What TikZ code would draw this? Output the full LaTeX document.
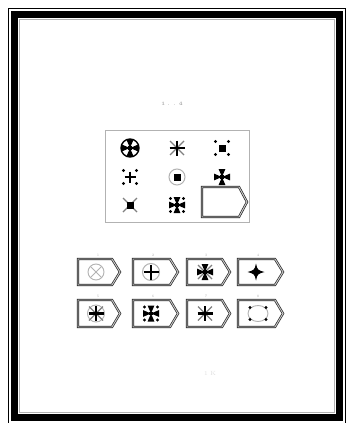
\documentclass[tikz,border=0pt]{standalone}
\usetikzlibrary{calc}
\tikzset{
  pattee/.pic={
    \foreach \r in {0,90,180,270}{
      \fill[rotate=\r] (0,0) -- (-3.4,-8) -- (3.4,-8) -- cycle;}
    \fill (-1.8,-1.8) rectangle (1.8,1.8);
  },
  dotsq/.pic={
    \foreach \dx/\dy in {-6.5/-6.5,6.5/-6.5,-6.5/6.5,6.5/6.5}{\fill (\dx,\dy) circle (1.7);}
  },
  xgray/.pic={
    \draw[black!50,line width=1.3] (-7,-7) -- (7,7) (-7,7) -- (7,-7);
  },
  plusblk/.pic={
    \draw[line width=2.5] (-7.5,0) -- (7.5,0) (0,-7.5) -- (0,7.5);
  },
  plussmall/.pic={
    \draw[line width=2.3] (-5.5,0) -- (5.5,0) (0,-5.5) -- (0,5.5);
  },
  sqblk/.pic={
    \fill (-3.5,-3.5) rectangle (3.5,3.5);
  },
  star4/.pic={
    \fill (0,-8.5) .. controls (1.5,-2) .. (8.5,0) .. controls (1.5,2) .. (0,8.5)
          .. controls (-1.5,2) .. (-8.5,0) .. controls (-1.5,-2) .. (0,-8.5) -- cycle;
  },
  tagline/.style={draw=black!85,line width=0.7pt,double=gray!40,double distance=0.9pt},
  lbl/.style={font=\fontsize{3.5}{3.5}\selectfont,text=gray!60,inner sep=0pt},
}
\newcommand{\tagat}[4]{%
  \draw[tagline] (#1,#2) -- ({#1+#3-8},#2) -- ({#1+#3},{#2+#4/2}) -- ({#1+#3-8},{#2+#4}) -- (#1,{#2+#4}) -- cycle;}
\begin{document}
\begin{tikzpicture}[x=1pt,y=-1pt]
\useasboundingbox (0,0) rectangle (352,423);
\fill[white] (0,0) rectangle (352,423);
% page border
\draw[line width=0.8pt] (8.5,8.5) rectangle (345.5,423);
\draw[line width=7pt] (14.5,14.5) rectangle (339,417.5);
\draw[gray!60,line width=0.6pt] (19.3,19.3) rectangle (334.2,412.7);
% heading
\node[font=\fontsize{5}{5}\selectfont\bfseries,text=gray!70] (hd) at (172,104) {1 . . 4};
% grid box
\draw[gray!60,line width=0.6pt] (105,130) rectangle (249,222);
% row 1
\draw[line width=1.4pt] (130,148) circle (9);
\pic at (130,148) {pattee};
\pic at (177,148) {xgray};
\pic at (177,148) {plusblk};
\pic at (222,148) {sqblk};
\pic at (222,148) {dotsq};
% row 2
\pic at (130,177) {plussmall};
\pic at (130,177) {dotsq};
\draw[gray!60,line width=1pt] (177,177) circle (8);
\pic at (177,177) {sqblk};
\pic at (222,177) {pattee};
% row 3
\pic at (130,205) {xgray};
\pic at (130,205) {sqblk};
\pic at (177,205) {pattee};
\pic at (177,205) {dotsq};
\tagat{202}{187}{45}{30}
% options
\tagat{78}{259}{42}{26}
\tagat{133}{259}{45}{26}
\tagat{187}{259}{43}{26}
\tagat{238}{259}{45}{26}
\tagat{78}{300}{42}{27}
\tagat{133}{300}{45}{27}
\tagat{187}{300}{43}{27}
\tagat{238}{300}{45}{27}
\node[lbl] (l1) at (98,255) {1};
\node[lbl] (l2) at (153,255) {2};
\node[lbl] (l3) at (206,255) {3};
\node[lbl] (l4) at (258,255) {4};
\node[lbl] (l5) at (98,296) {5};
\node[lbl] (l6) at (153,296) {6};
\node[lbl] (l7) at (206,296) {7};
\node[lbl] (l8) at (258,296) {8};
% option contents
\draw[gray!60,line width=0.9pt] (96,272) circle (8);
\draw[gray!60,line width=0.9pt] (90.5,266.5) -- (101.5,277.5) (90.5,277.5) -- (101.5,266.5);
\draw[gray!60,line width=1pt] (151,272) circle (8.5);
\pic at (151,272) {plusblk};
\pic at (205,272) {xgray};
\pic at (205,272) {pattee};
\pic at (256,272) {star4};
\draw[gray!60,line width=0.9pt] (96,313.5) circle (8.5);
\pic at (96,313.5) {xgray};
\pic at (96,313.5) {plusblk};
\pic at (151,313.5) {pattee};
\pic at (151,313.5) {dotsq};
\pic at (205,313.5) {xgray};
\pic at (205,313.5) {plusblk};
\draw[gray!60,line width=0.9pt] (258,313.5) ellipse (10 and 8);
\foreach \dx/\dy in {-8/-6,8/-6,-8/6,8/6}{\fill (258+\dx,313.5+\dy) circle (1.7);}
% footer
\node[font=\fontsize{6}{6}\selectfont,text=gray!25] (ft) at (210,373) {1 K};
\end{tikzpicture}
\end{document}
